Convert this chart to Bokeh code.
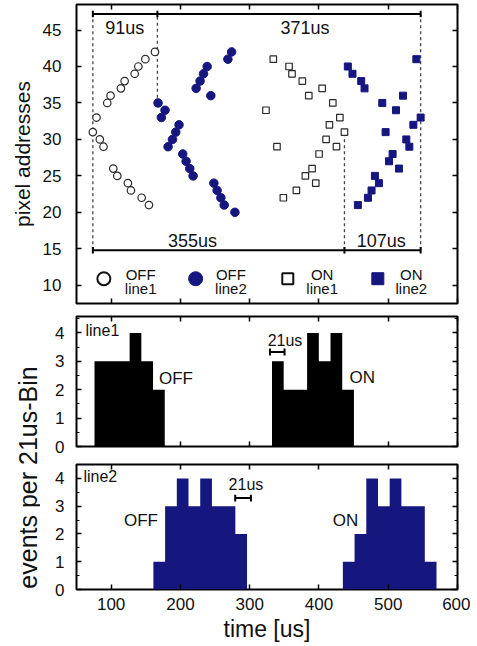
import numpy as np
from bokeh.plotting import figure
from bokeh.layouts import column, row
from bokeh.models import Range1d, LinearAxis, FixedTicker, SingleIntervalTicker, Label, CustomJSTickFormatter
from bokeh.embed import file_html
from bokeh.resources import INLINE
from bokeh.core.properties import value

# ---------------- data ----------------
# OFF events, line1 (open circles)
off1_t = [73.6, 78.9, 83.7, 89.0, 94.4, 99.2, 103.1, 108.9, 114.1, 119.5, 124.2, 128.6,
          134.0, 139.3, 144.1, 149.4, 154.6, 163.3]
off1_y = [31, 33, 30, 29, 35, 36, 26, 25, 37, 38, 24, 23, 39, 40, 22, 41, 21, 42]
# OFF events, line2 (filled circles)
off2_t = [167.7, 172.5, 177.8, 182.2, 188.5, 193.3, 198.0, 203.4, 208.2, 213.5, 218.3, 222.7,
          228.4, 233.4, 238.6, 243.9, 248.3, 253.0, 258.4, 263.2, 268.5, 273.9, 278.7]
off2_y = [35, 33, 34, 29, 30, 31, 32, 28, 27, 26, 25, 37, 38, 39, 40, 36, 24, 23, 22, 21, 41, 42, 20]
# ON events, line1 (open squares)
on1_t = [323.5, 334.1, 339.4, 348.6, 356.8, 361.1, 367.4, 376.0, 380.4, 385.3, 390.1, 395.4,
         400.2, 404.6, 410.3, 415.1, 420.0, 425.3, 430.2, 436.8]
on1_y = [34, 41, 29, 22, 40, 39, 23, 38, 25, 36, 26, 24, 28, 37, 30, 32, 35, 29, 33, 31]
# ON events, line2 (filled squares)
on2_t = [441.7, 448.4, 456.2, 461.0, 465.8, 470.7, 475.9, 480.8, 486.6, 491.4, 496.2, 501.1,
         506.3, 511.2, 515.5, 521.3, 526.1, 530.5, 536.3, 540.6, 546.8]
on2_y = [40, 39, 21, 38, 37, 22, 23, 25, 24, 35, 31, 27, 28, 34, 26, 36, 30, 29, 32, 41, 33]

# histograms (events per bin)
bin_width = 16.9
h1_off_start, h1_off_counts = 76.0, [3, 3, 3, 4, 3, 2]
h1_on_start, h1_on_counts = 332.2, [3, 2, 2, 4, 3, 4, 2]
h2_off_start, h2_off_counts = 161.0, [1, 3, 4, 3, 4, 3, 3, 2]
h2_on_start, h2_on_counts = 434.5, [1, 2, 4, 3, 4, 3, 3, 1]

# time markers of the interval annotations
mark_t = [73.6, 166.8, 436.8, 546.8]
top_intervals = ["91us", "371us"]
bottom_intervals = ["355us", "107us"]

x_ticks = [100, 200, 300, 400, 500, 600]
y_ticks_top = [10, 15, 20, 25, 30, 35, 40, 45]

legend_top = ["OFF", "OFF", "ON", "ON"]
legend_bot = ["line1", "line2", "line1", "line2"]

# ---------------- style ----------------
FONT = "Liberation Sans"
NAVY = "#16167f"
OPEN = "#2b2b2b"
TXT = "#111111"


def make_fig(w, h, yr, mb):
    p = figure(width=w, height=h, x_range=Range1d(50, 600), y_range=Range1d(*yr),
               output_backend="svg", toolbar_location=None,
               min_border_left=mb[0], min_border_right=mb[1],
               min_border_top=mb[2], min_border_bottom=mb[3])
    p.grid.visible = False
    p.outline_line_color = "black"
    p.outline_line_width = 2
    p.background_fill_color = "white"
    p.border_fill_color = "white"
    return p


def style_axis(ax, labels, standoff=12):
    ax.axis_line_color = None
    ax.major_tick_in = 5
    ax.major_tick_out = 0
    ax.minor_tick_in = 3
    ax.minor_tick_out = 0
    ax.major_tick_line_color = "black"
    ax.major_tick_line_width = 1.5
    ax.minor_tick_line_color = "black"
    ax.minor_tick_line_width = 1.2
    if labels:
        ax.major_label_text_font = FONT
        ax.major_label_text_font_size = "17px"
        ax.major_label_text_color = TXT
        ax.major_label_standoff = standoff
    else:
        ax.formatter = CustomJSTickFormatter(code="return ''")
        ax.major_label_text_font_size = "1px"
        ax.major_label_standoff = 0


def setup_axes(p, yticker, xlabels, ystandoff):
    bottom = p.below[0]
    left = p.left[0]
    bottom.ticker = FixedTicker(ticks=x_ticks)
    left.ticker = yticker
    style_axis(bottom, xlabels, 8)
    style_axis(left, True, ystandoff)
    top = LinearAxis(ticker=FixedTicker(ticks=x_ticks))
    style_axis(top, False)
    p.add_layout(top, "above")
    right = LinearAxis(ticker=yticker)
    style_axis(right, False)
    p.add_layout(right, "right")
    return bottom, left


W = 470
FL = 76   # frame left
FR = 13   # right border

# ---------------- top panel ----------------
p1 = make_fig(W, 310, (7.5, 48.5), (FL, FR, 4, 7))
b1, l1 = setup_axes(p1, FixedTicker(ticks=y_ticks_top), False, 15)
l1.axis_label = "pixel addresses"
l1.axis_label_text_font = FONT
l1.axis_label_text_font_size = "21px"
l1.axis_label_text_font_style = "normal"
l1.axis_label_text_color = TXT
l1.axis_label_standoff = 6

# dashed guide lines
y_top_arrow, y_bot_arrow = 47.2, 14.8
p1.segment(x0=[mark_t[0], mark_t[1], mark_t[2], mark_t[3]],
           y0=[y_bot_arrow, 35.7, y_bot_arrow, y_bot_arrow],
           x1=[mark_t[0], mark_t[1], mark_t[2], mark_t[3]],
           y1=[y_top_arrow, y_top_arrow, 30.9, y_top_arrow],
           line_color="#444444", line_width=1.3, line_dash="3 3")
# interval bars
p1.segment(x0=[mark_t[0], mark_t[0]], y0=[y_top_arrow, y_bot_arrow],
           x1=[mark_t[3], mark_t[3]], y1=[y_top_arrow, y_bot_arrow],
           line_color="black", line_width=2)
cap_top = [mark_t[0], mark_t[1], mark_t[3]]
cap_bot = [mark_t[0], mark_t[2], mark_t[3]]
p1.segment(x0=cap_top, y0=[y_top_arrow - 0.45] * 3, x1=cap_top, y1=[y_top_arrow + 0.45] * 3,
           line_color="black", line_width=2)
p1.segment(x0=cap_bot, y0=[y_bot_arrow - 0.45] * 3, x1=cap_bot, y1=[y_bot_arrow + 0.45] * 3,
           line_color="black", line_width=2)
p1.text(x=[119.5, 380.0], y=[45.3, 45.3], text=top_intervals,
        text_align="center", text_baseline="middle",
        text_font=value(FONT), text_font_size=value("18px"), text_color=TXT)
p1.text(x=[217.4, 490.0], y=[16.1, 16.1], text=bottom_intervals,
        text_align="center", text_baseline="middle",
        text_font=value(FONT), text_font_size=value("18px"), text_color=TXT)

# events
p1.scatter(off1_t, off1_y, marker="circle", size=7.5, fill_color="white",
           line_color=OPEN, line_width=1.2)
p1.scatter(off2_t, off2_y, marker="circle", size=8.5, fill_color=NAVY, line_color=NAVY)
p1.scatter(on1_t, on1_y, marker="square", size=6.5, fill_color="white",
           line_color=OPEN, line_width=1.2)
p1.scatter(on2_t, on2_y, marker="square", size=7, fill_color=NAVY, line_color=NAVY)

# legend row
leg_mx = [89.5, 222.0, 355.0, 485.0]
leg_tx = [142.6, 272.9, 404.6, 533.4]
p1.scatter([leg_mx[0]], [10.9], marker="circle", size=13, fill_color="white",
           line_color=TXT, line_width=2)
p1.scatter([leg_mx[1]], [10.9], marker="circle", size=14, fill_color=NAVY, line_color=NAVY)
p1.scatter([leg_mx[2]], [10.9], marker="square", size=11, fill_color="white",
           line_color=TXT, line_width=2)
p1.scatter([leg_mx[3]], [10.9], marker="square", size=12, fill_color=NAVY, line_color=NAVY)
p1.text(x=leg_tx, y=[11.45] * 4, text=legend_top, text_align="center", text_baseline="middle",
        text_font=value(FONT), text_font_size=value("15px"), text_color=TXT)
p1.text(x=leg_tx, y=[9.55] * 4, text=legend_bot, text_align="center", text_baseline="middle",
        text_font=value(FONT), text_font_size=value("15px"), text_color=TXT)


# ---------------- histograms ----------------
def hist(p, start, counts, color):
    edges = [start + i * bin_width for i in range(len(counts) + 1)]
    tops = list(counts) + [0]
    p.varea_step(x=edges, y1=[0] * len(edges), y2=tops, step_mode="after",
                 fill_color=color)


def hist_ticker():
    return SingleIntervalTicker(interval=1, num_minor_ticks=2)


LW = 40
H2, H3 = 145, 189
p2 = make_fig(W - LW, H2, (0, 4.58), (FL - LW, FR, 6, 9))
setup_axes(p2, hist_ticker(), False, 12)
hist(p2, h1_off_start, h1_off_counts, "black")
hist(p2, h1_on_start, h1_on_counts, "black")
p2.text(x=[63.0], y=[4.07], text=["line1"], text_align="left", text_baseline="middle",
        text_font=value(FONT), text_font_size=value("16px"), text_color=TXT)
p2.text(x=[169.0, 444.0], y=[2.38, 2.42], text=["OFF", "ON"], text_align="left",
        text_baseline="middle", text_font=value(FONT), text_font_size=value("17px"),
        text_color=TXT)
p2.text(x=[351.0], y=[3.74], text=["21us"], text_align="center", text_baseline="middle",
        text_font=value(FONT), text_font_size=value("16px"), text_color=TXT)
p2.segment(x0=[329.3], y0=[3.33], x1=[350.3], y1=[3.33], line_color="black", line_width=2)
p2.segment(x0=[329.3, 350.3], y0=[3.21, 3.21], x1=[329.3, 350.3], y1=[3.45, 3.45],
           line_color="black", line_width=2)

p3 = make_fig(W - LW, H3, (0, 4.5), (FL - LW, FR, 9, 54))
b3, l3 = setup_axes(p3, hist_ticker(), True, 12)
b3.axis_label = "time [us]"
b3.axis_label_text_font = FONT
b3.axis_label_text_font_size = "23px"
b3.axis_label_text_font_style = "normal"
b3.axis_label_text_color = TXT
b3.axis_label_standoff = 3
hist(p3, h2_off_start, h2_off_counts, NAVY)
hist(p3, h2_on_start, h2_on_counts, NAVY)
p3.text(x=[60.0], y=[4.07], text=["line2"], text_align="left", text_baseline="middle",
        text_font=value(FONT), text_font_size=value("16px"), text_color=TXT)
p3.text(x=[118.5, 420.0], y=[2.5, 2.5], text=["OFF", "ON"], text_align="left",
        text_baseline="middle", text_font=value(FONT), text_font_size=value("17px"),
        text_color=TXT)
p3.text(x=[294.6], y=[3.79], text=["21us"], text_align="center", text_baseline="middle",
        text_font=value(FONT), text_font_size=value("16px"), text_color=TXT)
p3.segment(x0=[279.1], y0=[3.29], x1=[301.8], y1=[3.29], line_color="black", line_width=2)
p3.segment(x0=[279.1, 301.8], y0=[3.17, 3.17], x1=[279.1, 301.8], y1=[3.41, 3.41],
           line_color="black", line_width=2)

# shared y label for the two histograms
lab = figure(width=LW, height=H2 + H3, x_range=Range1d(0, 1), y_range=Range1d(0, 1),
             x_axis_type=None, y_axis_type=None, output_backend="svg",
             toolbar_location=None, min_border=0)
lab.outline_line_color = None
lab.grid.visible = False
lab.add_layout(Label(x=0.675, y=0.50, text="events per 21us-Bin", angle=np.pi / 2,
                     text_align="center", text_baseline="middle", text_font=FONT,
                     text_font_size="25px", text_color=TXT))

layout = column(p1, row(lab, column(p2, p3)))

open("out.html", "w").write(file_html(layout, INLINE, "events"))
